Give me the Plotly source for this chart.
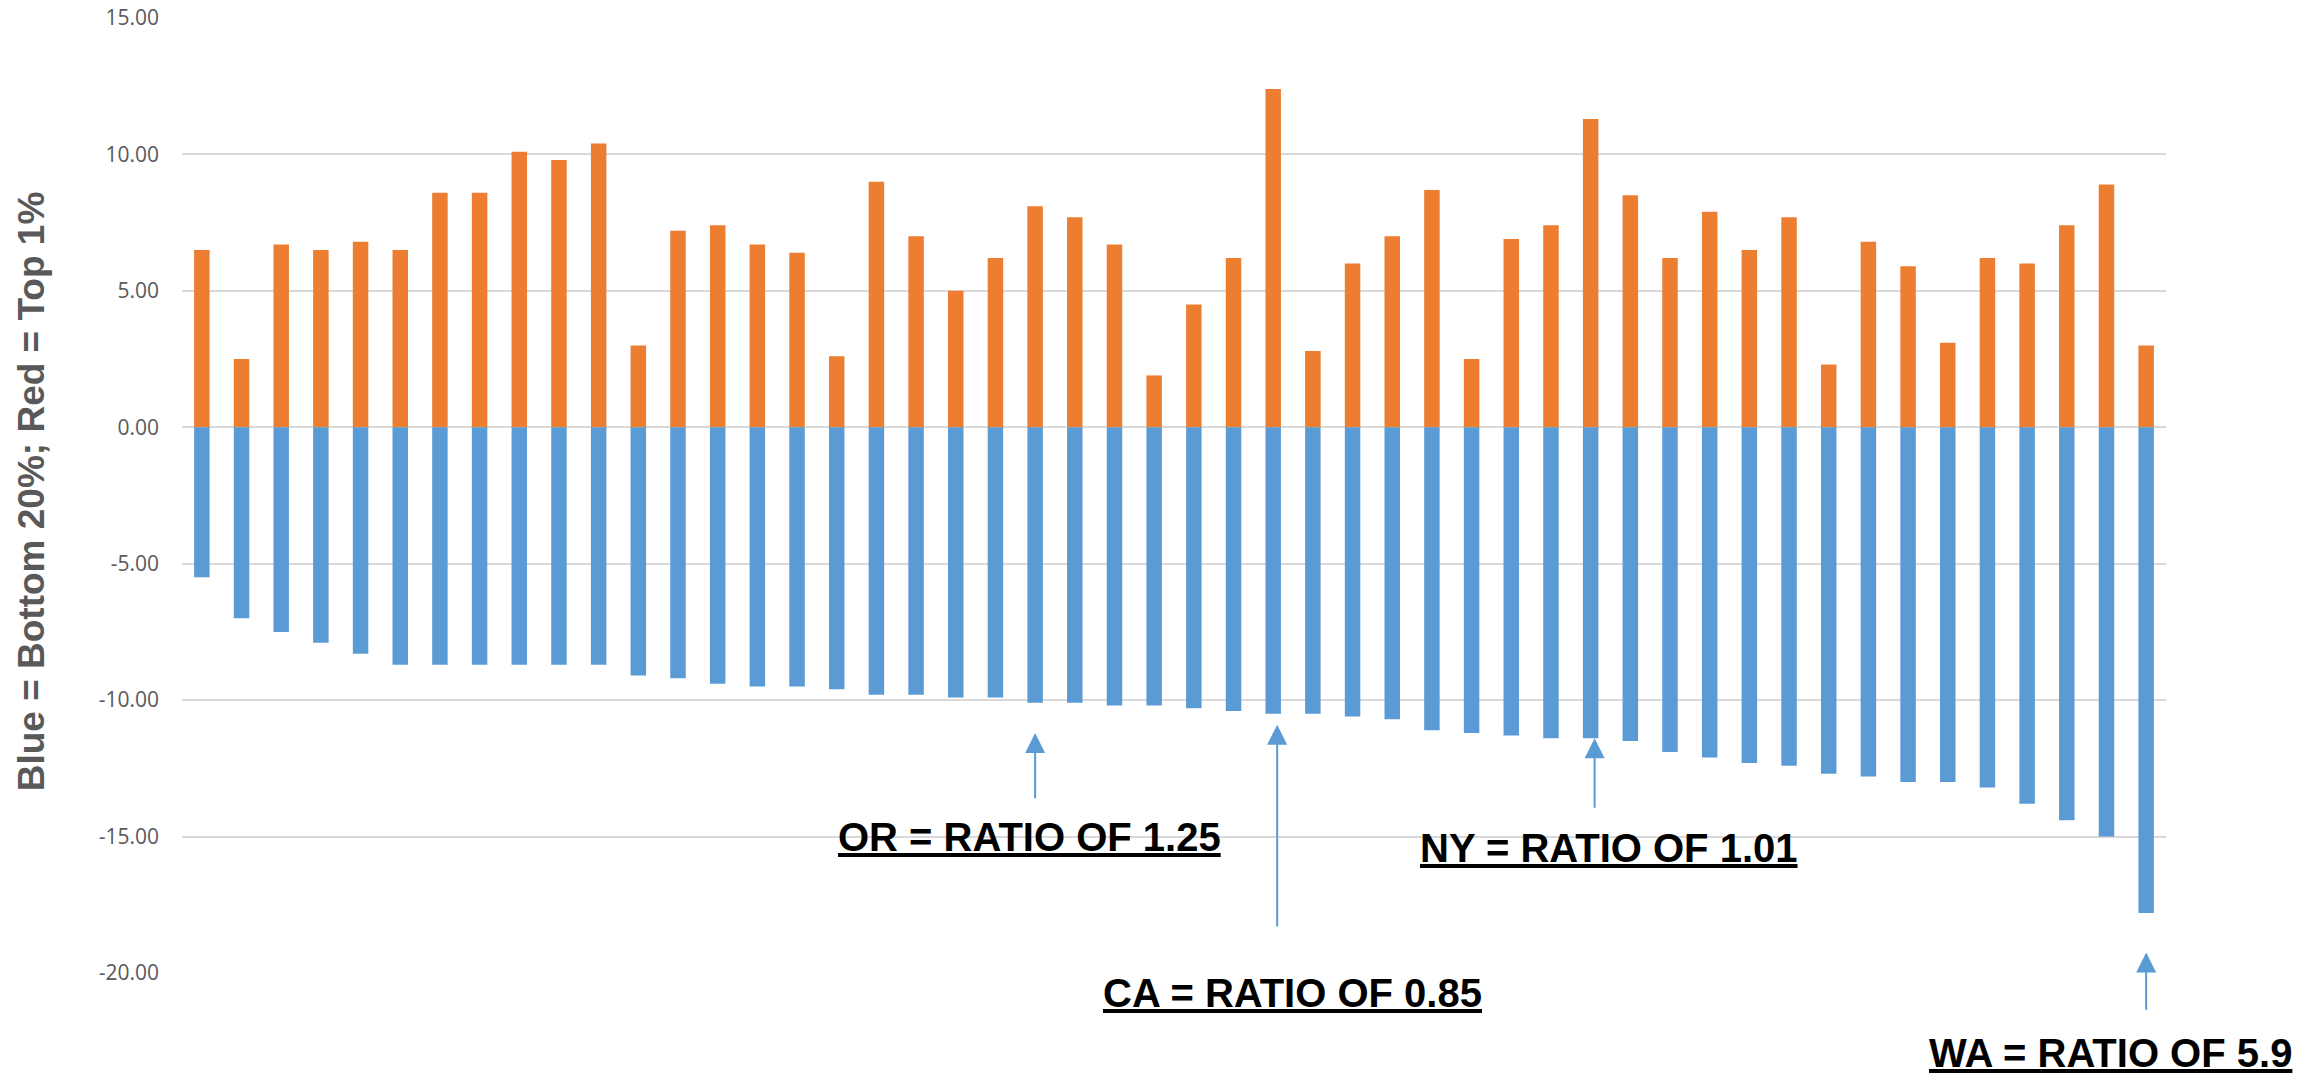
import plotly.graph_objects as go

# ---- data ----
positions = list(range(1, 51))

top_1pct = [6.5, 2.5, 6.7, 6.5, 6.8, 6.5, 8.6, 8.6, 10.1, 9.8,
            10.4, 3.0, 7.2, 7.4, 6.7, 6.4, 2.6, 9.0, 7.0, 5.0,
            6.2, 8.1, 7.7, 6.7, 1.9, 4.5, 6.2, 12.4, 2.8, 6.0,
            7.0, 8.7, 2.5, 6.9, 7.4, 11.3, 8.5, 6.2, 7.9, 6.5,
            7.7, 2.3, 6.8, 5.9, 3.1, 6.2, 6.0, 7.4, 8.9, 3.0]

bottom_20pct = [-5.5, -7.0, -7.5, -7.9, -8.3, -8.7, -8.7, -8.7, -8.7, -8.7,
                -8.7, -9.1, -9.2, -9.4, -9.5, -9.5, -9.6, -9.8, -9.8, -9.9,
                -9.9, -10.1, -10.1, -10.2, -10.2, -10.3, -10.4, -10.5, -10.5, -10.6,
                -10.7, -11.1, -11.2, -11.3, -11.4, -11.4, -11.5, -11.9, -12.1, -12.3,
                -12.4, -12.7, -12.8, -13.0, -13.0, -13.2, -13.8, -14.4, -15.0, -17.8]

tick_vals = [15, 10, 5, 0, -5, -10, -15, -20]
tick_labels = ["15.00", "10.00", "5.00", "0.00", "-5.00", "-10.00", "-15.00", "-20.00"]

# callouts: label, bar position, arrow head value, arrow tail value
callout_labels = ["OR = RATIO OF 1.25", "CA = RATIO OF 0.85", "NY = RATIO OF 1.01", "WA = RATIO OF 5.9"]
callout_bars = [22, 28.1, 36.1, 50]
callout_head = [-11.2, -10.9, -11.4, -19.25]
callout_tail = [-13.65, -18.35, -14.0, -21.4]
callout_text_x = [0.4274, 0.5595, 0.7193, 0.9718]   # paper
callout_text_y = [0.1423, -0.0209, 0.1308, -0.0837]  # paper

ORANGE = "#ED7D31"
BLUE = "#5B9BD5"
GRID = "#D9D9D9"
LABEL = "#595959"

fig = go.Figure()
fig.add_trace(go.Bar(x=positions, y=top_1pct, name="Top 1%",
                     marker=dict(color=ORANGE, line=dict(width=0)), width=0.39))
fig.add_trace(go.Bar(x=positions, y=bottom_20pct, name="Bottom 20%",
                     marker=dict(color=BLUE, line=dict(width=0)), width=0.39))

annotations = []
for lab, bx, hy, ty, tx, tyy in zip(callout_labels, callout_bars, callout_head,
                                     callout_tail, callout_text_x, callout_text_y):
    annotations.append(dict(
        x=bx, y=hy, xref="x", yref="y",
        ax=bx, ay=ty, axref="x", ayref="y",
        text="", showarrow=True, arrowhead=2, arrowsize=2,
        arrowwidth=2, arrowcolor=BLUE,
    ))
    annotations.append(dict(
        x=tx, y=tyy, xref="paper", yref="paper",
        xanchor="center", yanchor="middle",
        text="<b><u>" + lab + "</u></b>", showarrow=False,
        font=dict(family="Liberation Sans, Arial, sans-serif", size=40, color="#000000"),
    ))

annotations.append(dict(
    x=-0.0761, y=0.5044, xref="paper", yref="paper",
    xanchor="center", yanchor="middle", textangle=-90,
    text="<b>Blue = Bottom 20%; Red = Top 1%</b>", showarrow=False,
    font=dict(family="Liberation Sans, Arial, sans-serif", size=37, color=LABEL),
))

fig.update_layout(
    width=2323, height=1074,
    barmode="relative",
    bargap=0.6,
    showlegend=False,
    plot_bgcolor="white",
    paper_bgcolor="white",
    margin=dict(l=182, r=157, t=18, b=101, autoexpand=False),
    annotations=annotations,
    xaxis=dict(range=[0.5, 50.5], showticklabels=False, showgrid=False,
               zeroline=False, showline=False, ticks=""),
    yaxis=dict(range=[-20, 15], tickvals=tick_vals, ticktext=tick_labels,
               showgrid=True, gridcolor=GRID, gridwidth=1.5,
               zeroline=True, zerolinecolor=GRID, zerolinewidth=1.5,
               showline=False, ticks="", ticklabelstandoff=22,
               tickfont=dict(family="Open Sans, Liberation Sans, sans-serif", size=21, color=LABEL)),
)

fig.write_html("out.html",
               config={"displayModeBar": False},
               post_script="document.body.style.margin='0';document.body.style.overflow='hidden';")
